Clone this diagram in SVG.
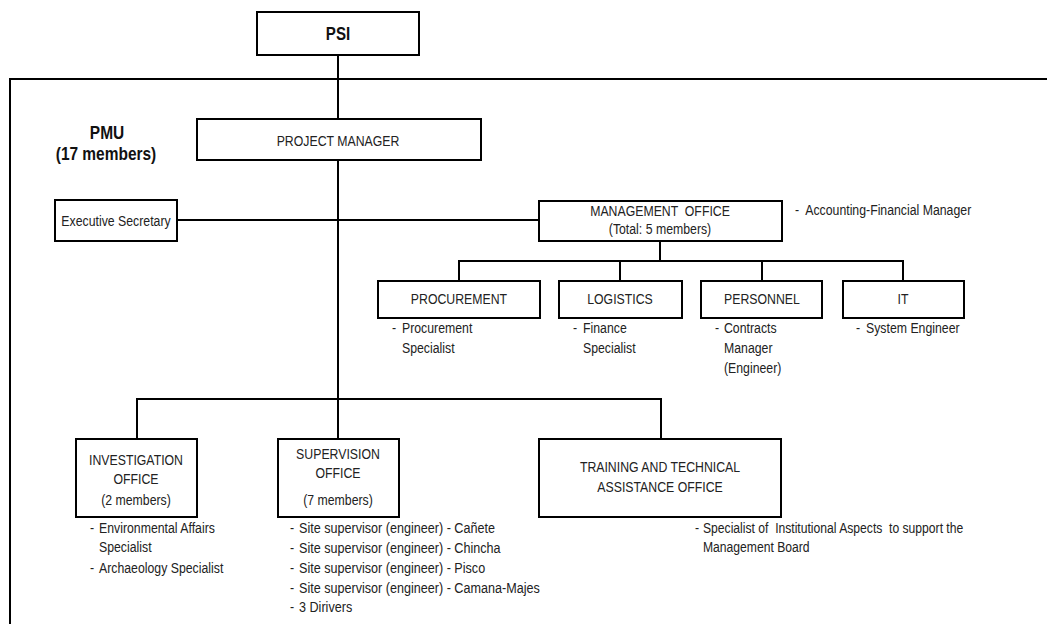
<svg xmlns="http://www.w3.org/2000/svg" width="1047" height="624" viewBox="0 0 1047 624">
<style>
  text { font-family: "Liberation Sans", Arial, sans-serif; font-size: 15px; fill: #222; white-space: pre; }
  .c { text-anchor: middle; }
  .b { font-weight: bold; font-size: 18px; fill: #111; }
  .box { fill: #fff; stroke: #000; stroke-width: 2; }
  .ln { fill: none; stroke: #000; stroke-width: 2; }
</style>
<rect width="1047" height="624" fill="#fff"/>
<g id="frame">
  <path class="ln" d="M1047,79 H10 V624"/>
</g>
<g id="connectors">
  <path class="ln" d="M338,55 V119"/>
  <path class="ln" d="M338,160 V439"/>
  <path class="ln" d="M177,220 H539"/>
  <path class="ln" d="M660,241 V261"/>
  <path class="ln" d="M459,281 V261 H903 V281"/>
  <path class="ln" d="M620,261 V281"/>
  <path class="ln" d="M762,261 V281"/>
  <path class="ln" d="M137,439 V399 H661 V439"/>
</g>
<g id="psi">
  <rect class="box" x="257" y="12" width="162" height="43"/>
  <text class="c b" transform="translate(338,40) scale(0.84,1)">PSI</text>
</g>
<g id="pmu-label">
  <text class="c b" transform="translate(107,139) scale(0.86,1)">PMU</text>
  <text class="c b" transform="translate(106,160) scale(0.86,1)">(17 members)</text>
</g>
<g id="project-manager">
  <rect class="box" x="197" y="119" width="284" height="41"/>
  <text class="c" transform="translate(338,146) scale(0.82,1)">PROJECT MANAGER</text>
</g>
<g id="executive-secretary">
  <rect class="box" x="55" y="200" width="122" height="41"/>
  <text class="c" transform="translate(116,226) scale(0.82,1)">Executive Secretary</text>
</g>
<g id="management-office">
  <rect class="box" x="539" y="201" width="243" height="40"/>
  <text class="c" transform="translate(660,216) scale(0.82,1)">MANAGEMENT  OFFICE</text>
  <text class="c" transform="translate(660,234) scale(0.82,1)">(Total: 5 members)</text>
  <text transform="translate(795,215) scale(0.82,1)">-  Accounting-Financial Manager</text>
</g>
<g id="procurement">
  <rect class="box" x="378" y="281" width="162" height="37"/>
  <text class="c" transform="translate(459,304) scale(0.82,1)">PROCUREMENT</text>
  <text transform="translate(392,333) scale(0.82,1)">-</text>
  <text transform="translate(402,333) scale(0.82,1)">Procurement</text>
  <text transform="translate(402,353) scale(0.82,1)">Specialist</text>
</g>
<g id="logistics">
  <rect class="box" x="559" y="281" width="123" height="37"/>
  <text class="c" transform="translate(620,304) scale(0.82,1)">LOGISTICS</text>
  <text transform="translate(573,333) scale(0.82,1)">-</text>
  <text transform="translate(583,333) scale(0.82,1)">Finance</text>
  <text transform="translate(583,353) scale(0.82,1)">Specialist</text>
</g>
<g id="personnel">
  <rect class="box" x="701" y="281" width="121" height="37"/>
  <text class="c" transform="translate(762,304) scale(0.82,1)">PERSONNEL</text>
  <text transform="translate(715,333) scale(0.82,1)">-</text>
  <text transform="translate(724,333) scale(0.82,1)">Contracts</text>
  <text transform="translate(724,353) scale(0.82,1)">Manager</text>
  <text transform="translate(724,373) scale(0.82,1)">(Engineer)</text>
</g>
<g id="it">
  <rect class="box" x="843" y="281" width="121" height="37"/>
  <text class="c" transform="translate(903,304) scale(0.82,1)">IT</text>
  <text transform="translate(856,333) scale(0.82,1)">-</text>
  <text transform="translate(866,333) scale(0.82,1)">System Engineer</text>
</g>
<g id="investigation-office">
  <rect class="box" x="76" y="439" width="121" height="78"/>
  <text class="c" transform="translate(136,465) scale(0.82,1)">INVESTIGATION</text>
  <text class="c" transform="translate(136,484) scale(0.82,1)">OFFICE</text>
  <text class="c" transform="translate(136,505) scale(0.82,1)">(2 members)</text>
  <text transform="translate(90,533) scale(0.82,1)">-</text>
  <text transform="translate(99,533) scale(0.82,1)">Environmental Affairs</text>
  <text transform="translate(99,552) scale(0.82,1)">Specialist</text>
  <text transform="translate(90,573) scale(0.82,1)">-</text>
  <text transform="translate(99,573) scale(0.82,1)">Archaeology Specialist</text>
</g>
<g id="supervision-office">
  <rect class="box" x="278" y="439" width="121" height="78"/>
  <text class="c" transform="translate(338,459) scale(0.82,1)">SUPERVISION</text>
  <text class="c" transform="translate(338,478) scale(0.82,1)">OFFICE</text>
  <text class="c" transform="translate(338,505) scale(0.82,1)">(7 members)</text>
  <text transform="translate(290,533) scale(0.82,1)">-</text>
  <text transform="translate(299,533) scale(0.84,1)">Site supervisor (engineer) - Cañete</text>
  <text transform="translate(290,553) scale(0.82,1)">-</text>
  <text transform="translate(299,553) scale(0.84,1)">Site supervisor (engineer) - Chincha</text>
  <text transform="translate(290,573) scale(0.82,1)">-</text>
  <text transform="translate(299,573) scale(0.84,1)">Site supervisor (engineer) - Pisco</text>
  <text transform="translate(290,593) scale(0.82,1)">-</text>
  <text transform="translate(299,593) scale(0.84,1)">Site supervisor (engineer) - Camana-Majes</text>
  <text transform="translate(290,612) scale(0.82,1)">-</text>
  <text transform="translate(299,612) scale(0.84,1)">3 Dirivers</text>
</g>
<g id="training-office">
  <rect class="box" x="539" y="439" width="242" height="78"/>
  <text class="c" transform="translate(660,472) scale(0.82,1)">TRAINING AND TECHNICAL</text>
  <text class="c" transform="translate(660,492) scale(0.82,1)">ASSISTANCE OFFICE</text>
  <text transform="translate(695,533) scale(0.82,1)">-</text>
  <text transform="translate(703,533) scale(0.81,1)">Specialist of  Institutional Aspects  to support the</text>
  <text transform="translate(703,552) scale(0.81,1)">Management Board</text>
</g>
</svg>
